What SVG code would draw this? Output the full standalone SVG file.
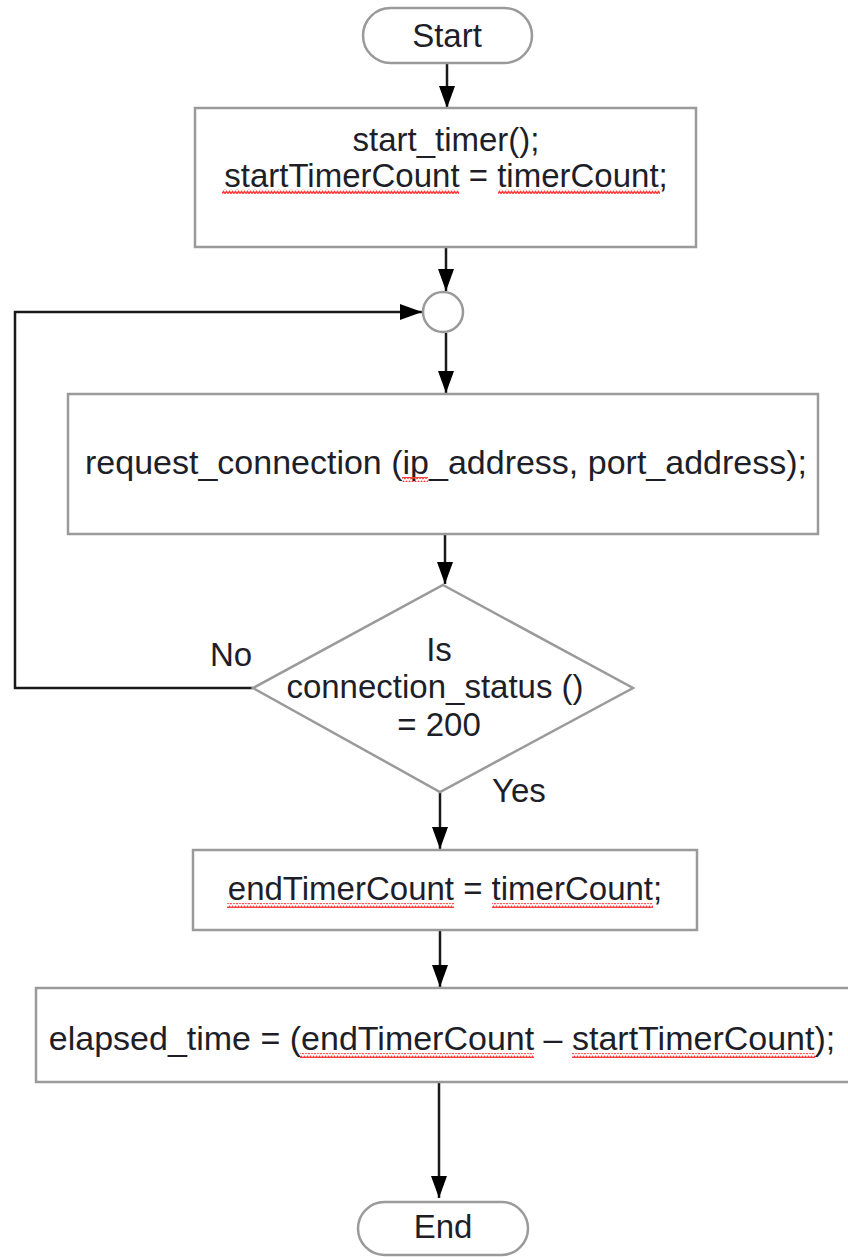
<svg xmlns="http://www.w3.org/2000/svg" width="848" height="1257" viewBox="0 0 848 1257">
<style>
.shape{fill:#fff;stroke:#9a9a9a;stroke-width:2.5}
.conn{fill:none;stroke:#1a1a1a;stroke-width:2.5}
.t{font-family:"Liberation Sans",Arial,sans-serif;font-size:33px;fill:#1e1e28;text-anchor:middle}
.lbl{font-family:"Liberation Sans",Arial,sans-serif;font-size:33px;fill:#1e1e28}
.sq{fill:url(#squig)}
</style>
<defs>
<marker id="arr" markerUnits="userSpaceOnUse" markerWidth="24" markerHeight="18" refX="22" refY="8" orient="auto">
<path d="M0,0 L22,8 L0,16 Z" fill="#000"/>
</marker>
<pattern id="squig" patternUnits="userSpaceOnUse" x="0" y="0" width="6" height="5">
<path d="M0,3.5 L1.5,1.5 L3,3.5 L4.5,1.5 L6,3.5" fill="none" stroke="#ff3a3a" stroke-width="1.5"/>
</pattern>
</defs>

<g id="connectors">
<line class="conn" x1="447" y1="63" x2="447" y2="108" marker-end="url(#arr)"/>
<line class="conn" x1="446" y1="247" x2="446" y2="291" marker-end="url(#arr)"/>
<path class="conn" d="M253,688 L15,688 L15,312 L422,312" marker-end="url(#arr)"/>
<line class="conn" x1="446" y1="333" x2="446" y2="393" marker-end="url(#arr)"/>
<line class="conn" x1="445" y1="535" x2="445" y2="584" marker-end="url(#arr)"/>
<line class="conn" x1="440" y1="792" x2="440" y2="849" marker-end="url(#arr)"/>
<line class="conn" x1="440" y1="930" x2="440" y2="987" marker-end="url(#arr)"/>
<line class="conn" x1="439" y1="1082" x2="439" y2="1198" marker-end="url(#arr)"/>
</g>

<g id="start">
<rect class="shape" x="363" y="8" width="169" height="55" rx="27.5"/>
<text class="t" x="447" y="47">Start</text>
</g>

<g id="init">
<rect class="shape" x="195" y="108" width="501" height="139"/>
<text class="t" x="446" y="151">start_timer();</text>
<text class="t" x="446" y="187">startTimerCount = timerCount;</text>
<rect class="sq" x="222" y="189" width="237" height="5"/>
<rect class="sq" x="498" y="189" width="162" height="5"/>
</g>

<g id="junction">
<circle class="shape" cx="443" cy="312" r="20"/>
</g>

<g id="request">
<rect class="shape" x="68" y="394" width="750" height="140"/>
<text class="t" x="446" y="474" style="font-size:34px">request_connection (ip_address, port_address);</text>
<rect class="sq" x="402" y="477" width="26" height="5"/>
</g>

<g id="decision">
<polygon class="shape" points="443,585 633,688 440,792 253,688"/>
<text class="t" x="439" y="661">Is</text>
<text class="t" x="435" y="698">connection_status ()</text>
<text class="t" x="439" y="736">= 200</text>
<text class="lbl" x="210" y="666">No</text>
<text class="lbl" x="492" y="802">Yes</text>
</g>

<g id="endcount">
<rect class="shape" x="193" y="850" width="504" height="80"/>
<text class="t" x="445" y="900">endTimerCount = timerCount;</text>
<rect class="sq" x="227" y="903" width="227" height="5"/>
<rect class="sq" x="492" y="903" width="161" height="5"/>
</g>

<g id="elapsed">
<rect class="shape" x="36" y="988" width="814" height="94"/>
<text class="t" x="442" y="1050" style="font-size:34px">elapsed_time = (endTimerCount – startTimerCount);</text>
<rect class="sq" x="300" y="1053" width="234" height="5"/>
<rect class="sq" x="572" y="1053" width="243" height="5"/>
</g>

<g id="end">
<rect class="shape" x="358" y="1202" width="170" height="53" rx="26.5"/>
<text class="t" x="443" y="1238">End</text>
</g>
</svg>
